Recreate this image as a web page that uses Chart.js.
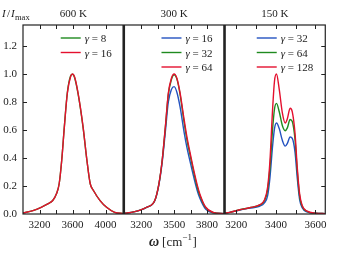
<!DOCTYPE html>
<html>
<head>
<meta charset="utf-8">
<script src="https://cdn.jsdelivr.net/npm/chart.js@4/dist/chart.umd.min.js"></script>
<style>
  html, body { margin: 0; padding: 0; background: #fff; }
  #wrap { position: relative; width: 337px; height: 253px; }
</style>
</head>
<body>
<div id="wrap"><canvas id="chart" width="337" height="253"></canvas></div>
<script>
// panel titles
const temps = ['600 K', '300 K', '150 K'];

// 600 K panel
const w600 = [3000, 3120, 3220, 3300, 3360, 3405, 3438, 3469, 3501, 3537, 3576, 3600, 3624, 3667, 3727, 3774, 3814, 3853, 3933, 4012, 4110, 4220];
const i600g8 = [0.007, 0.024, 0.048, 0.072, 0.096, 0.144, 0.216, 0.386, 0.628, 0.868, 0.985, 0.998, 0.975, 0.858, 0.62, 0.382, 0.216, 0.168, 0.096, 0.048, 0.012, 0.003];
const i600g16 = [0.007, 0.024, 0.048, 0.072, 0.096, 0.144, 0.216, 0.384, 0.624, 0.863, 0.98, 1.0, 0.98, 0.863, 0.624, 0.384, 0.216, 0.168, 0.096, 0.048, 0.012, 0.003];

// 300 K panel
const w300 = [3040, 3071, 3190, 3249, 3323, 3361, 3391, 3420, 3447, 3475, 3500, 3525, 3553, 3592, 3618, 3650, 3677, 3710, 3736, 3787, 3855, 3960];
const i300g16 = [0.004, 0.007, 0.028, 0.048, 0.094, 0.21, 0.37, 0.59, 0.8, 0.89, 0.91, 0.87, 0.77, 0.58, 0.47, 0.36, 0.27, 0.17, 0.11, 0.035, 0.009, 0.002];
const i300g32 = [0.004, 0.007, 0.028, 0.048, 0.096, 0.216, 0.384, 0.62, 0.855, 0.96, 0.995, 0.965, 0.86, 0.65, 0.525, 0.405, 0.305, 0.195, 0.13, 0.045, 0.011, 0.002];
const i300g64 = [0.004, 0.007, 0.028, 0.048, 0.096, 0.216, 0.384, 0.624, 0.863, 0.97, 1.0, 0.97, 0.87, 0.67, 0.545, 0.42, 0.32, 0.21, 0.14, 0.05, 0.012, 0.002];

// 150 K panel
const w150 = [3140, 3167, 3217, 3267, 3317, 3342, 3358, 3370, 3383, 3393, 3403, 3417, 3433, 3447, 3458, 3472, 3483, 3497, 3508, 3520, 3533, 3558, 3600, 3650];
const i150g32 = [0.005, 0.012, 0.028, 0.042, 0.055, 0.08, 0.13, 0.26, 0.48, 0.61, 0.65, 0.61, 0.525, 0.485, 0.505, 0.55, 0.54, 0.44, 0.26, 0.105, 0.045, 0.015, 0.005, 0.003];
const i150g64 = [0.005, 0.012, 0.03, 0.045, 0.063, 0.095, 0.17, 0.33, 0.6, 0.75, 0.79, 0.73, 0.63, 0.595, 0.615, 0.675, 0.66, 0.53, 0.31, 0.13, 0.055, 0.018, 0.005, 0.003];
const i150g128 = [0.005, 0.012, 0.03, 0.045, 0.065, 0.1, 0.19, 0.38, 0.74, 0.95, 1.0, 0.89, 0.72, 0.65, 0.68, 0.755, 0.73, 0.575, 0.335, 0.145, 0.06, 0.02, 0.006, 0.003];

// ticks
const yTicks = [0, 0.2, 0.4, 0.6, 0.8, 1.0, 1.2];
const x1Ticks = [3200, 3400, 3600, 3800, 4000];
const x1Labels = [3200, 3600, 4000];
const x2Ticks = [3200, 3350, 3500, 3650, 3800];
const x2Labels = [3200, 3500, 3800];
const x3Ticks = [3200, 3300, 3400, 3500, 3600];
const x3Labels = [3200, 3400, 3600];

const BLUE = '#2352c0';
const GREEN = '#1f8a1f';
const RED = '#e4102e';
const INK = '#222';
const SERIF = '"Liberation Serif", "DejaVu Serif", serif';

function pts(xs, ys) {
  return xs.map((x, i) => ({ x: x, y: ys[i] }));
}

function ds(label, xs, ys, color, axis, order) {
  return {
    label: label,
    data: pts(xs, ys),
    xAxisID: axis,
    borderColor: color,
    backgroundColor: color,
    borderWidth: 1.4,
    pointRadius: 0,
    fill: false,
    cubicInterpolationMode: 'monotone',
    order: order
  };
}

const datasets = [
  ds('γ = 8', w600, i600g8, GREEN, 'x1', 1),
  ds('γ = 16', w600, i600g16, RED, 'x1', 0),
  ds('γ = 16', w300, i300g16, BLUE, 'x2', 2),
  ds('γ = 32', w300, i300g32, GREEN, 'x2', 1),
  ds('γ = 64', w300, i300g64, RED, 'x2', 0),
  ds('γ = 32', w150, i150g32, BLUE, 'x3', 2),
  ds('γ = 64', w150, i150g64, GREEN, 'x3', 1),
  ds('γ = 128', w150, i150g128, RED, 'x3', 0)
];

function xAxis(min, max, ticks, labels) {
  return {
    type: 'linear',
    position: 'bottom',
    stack: 'w',
    stackWeight: 1,
    min: min,
    max: max,
    afterBuildTicks: s => { s.ticks = ticks.map(v => ({ value: v })); },
    afterFit: s => { s.height = 39; },
    grid: { display: false, drawTicks: false },
    border: { display: false },
    ticks: {
      autoSkip: false,
      maxRotation: 0,
      padding: 5,
      color: INK,
      font: { family: SERIF, size: 11 },
      callback: v => labels.includes(v) ? String(v) : ''
    }
  };
}

function line(ctx, x1, y1, x2, y2) {
  ctx.beginPath();
  ctx.moveTo(x1, y1);
  ctx.lineTo(x2, y2);
  ctx.stroke();
}

const decor = {
  id: 'decor',
  afterDatasetsDraw(chart) {
    const ctx = chart.ctx;
    const a = chart.chartArea;
    const panels = ['x1', 'x2', 'x3'].map(id => chart.scales[id]);
    const y = chart.scales.y;
    ctx.save();
    ctx.strokeStyle = INK;

    // inward ticks
    ctx.lineWidth = 1;
    panels.forEach(s => {
      s.ticks.forEach(t => {
        const px = Math.round(s.getPixelForValue(t.value)) + 0.5;
        line(ctx, px, a.bottom, px, a.bottom - 4);
        line(ctx, px, a.top, px, a.top + 4);
      });
    });
    y.ticks.forEach(t => {
      if (t.value <= 0) return;
      const py = Math.round(y.getPixelForValue(t.value)) + 0.5;
      line(ctx, a.left, py, a.left + 4, py);
      line(ctx, a.right, py, a.right - 4, py);
    });

    // frame + panel separators
    ctx.lineWidth = 1.2;
    ctx.strokeRect(a.left, a.top, a.right - a.left, a.bottom - a.top);
    ctx.lineWidth = 2.6;
    panels.slice(1).forEach(s => line(ctx, s.left, a.top, s.left, a.bottom));

    // titles
    ctx.fillStyle = INK;
    ctx.textBaseline = 'alphabetic';
    ctx.textAlign = 'center';
    ctx.font = '11px ' + SERIF;
    panels.forEach((s, i) => ctx.fillText(temps[i], (s.left + s.right) / 2, 17));

    // y label I/I_max
    ctx.textAlign = 'left';
    ctx.font = 'italic 11px ' + SERIF;
    ctx.fillText('I', 2, 17);
    ctx.font = '11px ' + SERIF;
    ctx.fillText('/', 7, 17);
    ctx.font = 'italic 11px ' + SERIF;
    ctx.fillText('I', 11, 17);
    ctx.font = '8.5px ' + SERIF;
    ctx.fillText('max', 15, 20);

    // x label ω [cm^-1]
    ctx.font = 'bold italic 14px ' + SERIF;
    let x = 149;
    ctx.fillText('ω', x, 246);
    x += ctx.measureText('ω').width + 3;
    ctx.font = '13px ' + SERIF;
    ctx.fillText('[cm', x, 246);
    x += ctx.measureText('[cm').width;
    ctx.font = '9px ' + SERIF;
    ctx.fillText('−1', x, 240);
    x += ctx.measureText('−1').width + 0.5;
    ctx.font = '13px ' + SERIF;
    ctx.fillText(']', x, 246);

    // legends inside each panel
    panels.forEach(s => {
      const items = chart.data.datasets.filter(d => d.xAxisID === s.id);
      const widths = items.map(d => {
        ctx.font = 'italic 11px ' + SERIF;
        const g = ctx.measureText(d.label.slice(0, 1)).width;
        ctx.font = '11px ' + SERIF;
        return g + ctx.measureText(d.label.slice(1)).width;
      });
      const maxW = Math.max.apply(null, widths);
      const x0 = s.right - 11 - maxW - 25;
      items.forEach((d, k) => {
        const ry = 38 + k * 14.5;
        ctx.strokeStyle = d.borderColor;
        ctx.lineWidth = 1.4;
        line(ctx, x0, ry, x0 + 20, ry);
        ctx.fillStyle = INK;
        ctx.font = 'italic 11px ' + SERIF;
        const g = d.label.slice(0, 1);
        ctx.fillText(g, x0 + 24, ry + 4);
        const gw = ctx.measureText(g).width;
        ctx.font = '11px ' + SERIF;
        ctx.fillText(d.label.slice(1), x0 + 24 + gw, ry + 4);
      });
    });
    ctx.restore();
  }
};

new Chart(document.getElementById('chart'), {
  type: 'line',
  data: { datasets: datasets },
  options: {
    responsive: false,
    animation: false,
    layout: { padding: { left: 0, right: 5, top: 25, bottom: 0 } },
    plugins: { legend: { display: false }, tooltip: { enabled: false } },
    scales: {
      y: {
        min: 0,
        max: 1.35,
        afterBuildTicks: s => { s.ticks = yTicks.map(v => ({ value: v })); },
        afterFit: s => { s.width = 23; },
        grid: { display: false, drawTicks: false },
        border: { display: false },
        ticks: {
          padding: 6,
          color: INK,
          font: { family: SERIF, size: 11 },
          callback: v => v.toFixed(1)
        }
      },
      x1: xAxis(3000, 4220, x1Ticks, x1Labels),
      x2: xAxis(3040, 3960, x2Ticks, x2Labels),
      x3: xAxis(3140, 3650, x3Ticks, x3Labels)
    }
  },
  plugins: [decor]
});
</script>
</body>
</html>
